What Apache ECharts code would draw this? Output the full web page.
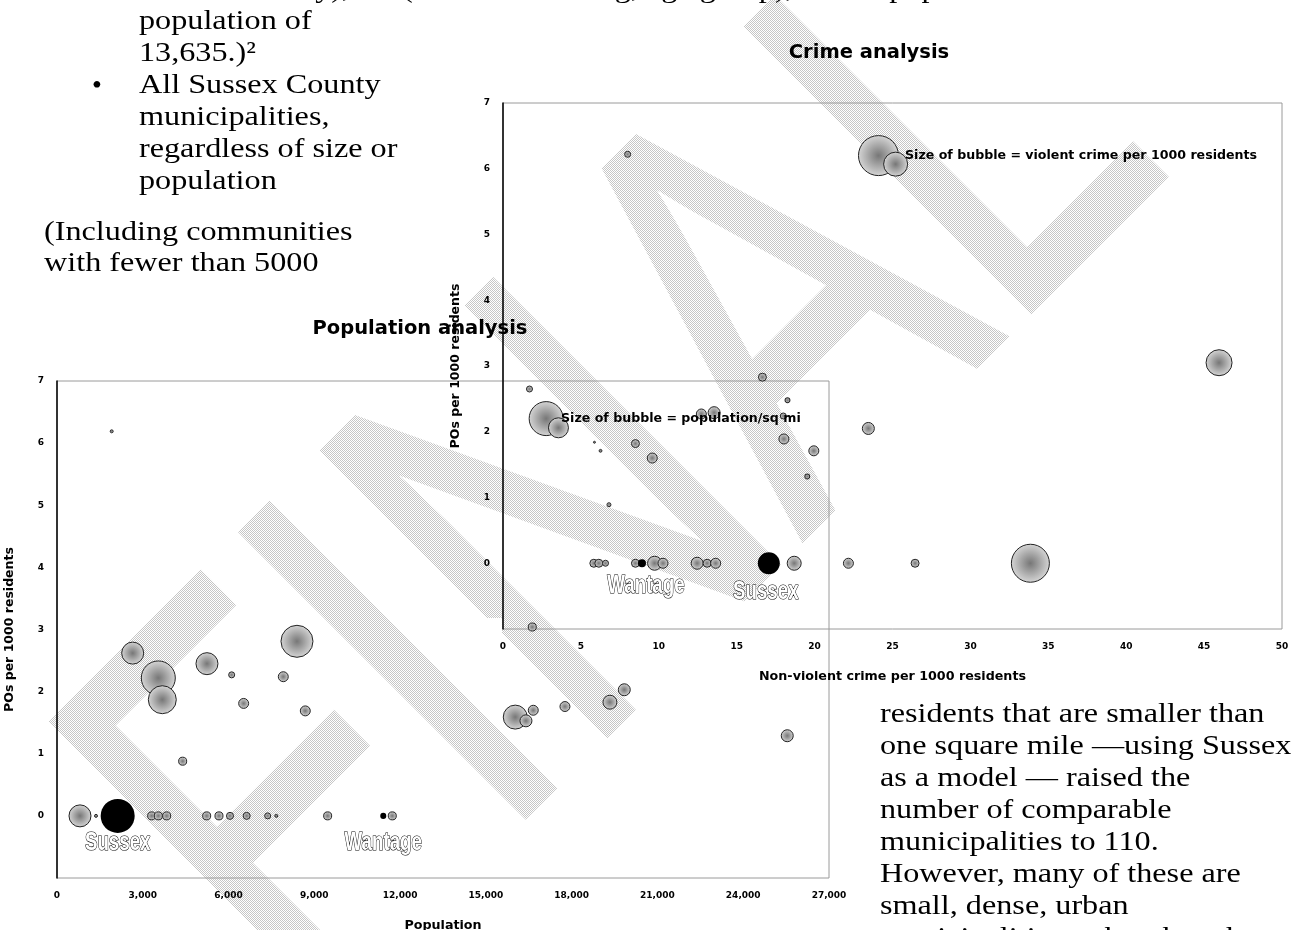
<!DOCTYPE html>
<html>
<head>
<meta charset="utf-8">
<script src="https://cdn.jsdelivr.net/npm/echarts@6/dist/echarts.min.js"></script>
<style>
  html, body { margin: 0; padding: 0; background: #fff; }
  #wrap { position: relative; width: 1292px; height: 930px; }
  #mark, #page { position: absolute; left: 0; top: 0; width: 1292px; height: 930px; }
</style>
</head>
<body>
<div id="wrap">
  <canvas id="mark" width="1292" height="930"></canvas>
  <div id="page"></div>
</div>
<script>
// Population analysis: population vs POs per 1000, bubble = population / sq mi
var popTotal = [1913, 2647, 3543, 3683, 5245, 6109, 8393, 7914, 6528, 8684, 4395, 16027, 16401, 16657, 17765, 19338, 19840, 25540, 16622,
  804, 1364, 3311, 3543, 3836, 5235, 5665, 6050, 6633, 7368, 7670, 9466, 11726];
var popPOs = [6.19, 2.62, 2.22, 1.87, 2.45, 2.27, 2.81, 2.24, 1.81, 1.69, 0.88, 1.59, 1.53, 1.70, 1.76, 1.83, 2.03, 1.29, 3.04,
  0, 0, 0, 0, 0, 0, 0, 0, 0, 0, 0, 0, 0];
var popDensity = [27, 1465, 3500, 2370, 1465, 110, 3100, 300, 300, 300, 195, 1740, 435, 300, 300, 590, 435, 435, 195,
  1465, 27, 195, 195, 195, 195, 195, 150, 150, 110, 27, 195, 195];

// Crime analysis: non-violent crime vs POs per 1000, bubble = violent crime per 1000
var crimeNonViolent = [8.0, 24.1, 25.2, 16.65, 23.45, 45.96, 1.7, 2.77, 3.56, 5.87, 6.26, 8.5, 9.58, 6.8, 12.73, 13.55, 18.26, 17.99, 18.03, 19.95, 19.53,
  5.83, 6.15, 6.58, 8.5, 9.73, 10.27, 12.46, 13.1, 13.65, 18.69, 22.17, 26.45, 33.85];
var crimePOs = [6.22, 6.2, 6.07, 2.83, 2.05, 3.05, 2.65, 2.2, 2.06, 1.84, 1.71, 1.82, 1.6, 0.89, 2.27, 2.29, 2.48, 2.24, 1.89, 1.71, 1.32,
  0, 0, 0, 0, 0, 0, 0, 0, 0, 0, 0, 0, 0];
var crimeViolent = [0.09, 4.0, 1.44, 0.16, 0.36, 1.69, 0.09, 2.89, 1.0, 0.01, 0.02, 0.16, 0.25, 0.04, 0.25, 0.36, 0.06, 0.09, 0.25, 0.25, 0.06,
  0.16, 0.16, 0.09, 0.16, 0.49, 0.25, 0.36, 0.16, 0.25, 0.49, 0.25, 0.16, 3.61];

// the two towns drawn in black
var markedTowns = ['Wantage', 'Sussex'];
var popMarkedTotal = [11411, 2122];
var popMarkedPOs = [0, 0];
var popMarkedDensity = [110, 3500];
var crimeMarkedNonViolent = [8.92, 17.06];
var crimeMarkedPOs = [0, 0];
var crimeMarkedViolent = [0.16, 1.21];

// tick labels
var popTicks = [0, 3000, 6000, 9000, 12000, 15000, 18000, 21000, 24000, 27000];
var crimeTicks = [0, 5, 10, 15, 20, 25, 30, 35, 40, 45, 50];
var poTicks = [0, 1, 2, 3, 4, 5, 6, 7];

// document text around the charts
var textTopLeft = ['Sussex County), NJ (similar in zoning, age group), with a population', 'population of', '13,635.)\u00b2',
  'All Sussex County', 'municipalities,', 'regardless of size or', 'population'];
var textNote = ['(Including communities', 'with fewer than 5000'];
var textRight = ['residents that are smaller than', 'one square mile \u2014using Sussex', 'as a model \u2014 raised the',
  'number of comparable', 'municipalities to 110.', 'However, many of these are', 'small, dense, urban',
  'municipalities rather than the rural'];

var chartFont = '"DejaVu Sans", sans-serif';
var bookFont = '"Liberation Serif", serif';

/**
 * FINAL 水印（棋盘格纹理）
 */
function drawWatermark() {
  var cv = document.getElementById('mark');
  var ctx = cv.getContext('2d');
  ctx.save();
  ctx.translate(197, 917);
  ctx.rotate(-Math.PI / 4);
  ctx.scale(0.74, 1);
  ctx.font = '583px "Liberation Sans", sans-serif';
  ctx.textAlign = 'left';
  ctx.textBaseline = 'middle';
  ctx.fillStyle = '#000';
  ctx.strokeStyle = '#000';
  ctx.lineWidth = 6;
  ctx.fillText('FINAL', 0, 0);
  ctx.strokeText('FINAL', 0, 0);
  ctx.restore();

  var tile = document.createElement('canvas');
  tile.width = 2;
  tile.height = 2;
  var t = tile.getContext('2d');
  t.fillStyle = '#ffffff';
  t.fillRect(0, 0, 2, 2);
  t.fillStyle = '#c6c6c6';
  t.fillRect(0, 0, 1, 1);
  t.fillRect(1, 1, 1, 1);

  ctx.globalCompositeOperation = 'source-in';
  ctx.fillStyle = ctx.createPattern(tile, 'repeat');
  ctx.fillRect(0, 0, cv.width, cv.height);
  ctx.globalCompositeOperation = 'source-over';
  // 白色遮挡块
  ctx.clearRect(470, 618, 32, 24);
}
drawWatermark();

var chart = echarts.init(document.getElementById('page'));

var bubbleFill = {
  type: 'radial', x: 0.5, y: 0.5, r: 0.5,
  colorStops: [{ offset: 0, color: '#777777' }, { offset: 1, color: '#d6d6d6' }]
};

function popSize(d) { return 34 * Math.sqrt(d[2] / 3500); }
function crimeSize(d) { return 20 * Math.sqrt(d[2]); }

function zip(xs, ys, vs) {
  return xs.map(function(x, i) { return [x, ys[i], vs[i]]; });
}
function named(xs, ys, vs) {
  return markedTowns.map(function(n, i) { return { name: n, value: [xs[i], ys[i], vs[i]] }; });
}

function valueAxis(grid, min, max, interval, name, fmt) {
  return {
    type: 'value', gridIndex: grid, min: min, max: max, interval: interval,
    name: name, nameLocation: 'middle', nameGap: 41,
    nameTextStyle: { fontFamily: chartFont, fontWeight: 'bold', fontSize: 12.7, color: '#000' },
    axisTick: { show: false },
    splitLine: { show: false },
    axisLabel: { fontFamily: chartFont, fontWeight: 'bold', fontSize: 9, color: '#000', margin: 13, formatter: fmt }
  };
}

function lines(arr, x, top, lh, sx) {
  return {
    type: 'text', x: x, y: top, z: 20, scaleX: sx,
    style: { text: arr.join('\n'), font: '28px ' + bookFont, fill: '#000', lineHeight: lh, textVerticalAlign: 'top' }
  };
}

function label(text, x, y, size, align) {
  return {
    type: 'text', x: x, y: y, z: 20,
    style: { text: text, font: 'bold ' + size + 'px ' + chartFont, fill: '#000', textAlign: align, textVerticalAlign: 'middle' }
  };
}

var popX = valueAxis(0, popTicks[0], popTicks[popTicks.length - 1], popTicks[1] - popTicks[0], 'Population',
  function(v) { return v.toLocaleString('en-US'); });
popX.axisLine = { show: false };
var crimeX = valueAxis(1, crimeTicks[0], crimeTicks[crimeTicks.length - 1], crimeTicks[1] - crimeTicks[0],
  'Non-violent crime per 1000 residents');
crimeX.axisLine = { show: false };

var yFmt = function(v) { return v < poTicks[0] ? '' : v; };
var popY = valueAxis(0, -1, poTicks[poTicks.length - 1], 1, 'POs per 1000 residents', yFmt);
var crimeY = valueAxis(1, -1, poTicks[poTicks.length - 1], 1, 'POs per 1000 residents', yFmt);
popY.nameTextStyle.fontSize = crimeY.nameTextStyle.fontSize = 12.5;
popY.axisLine = crimeY.axisLine = { show: true, lineStyle: { color: '#000', width: 1.5 } };

var option = {
  backgroundColor: 'transparent',
  animation: false,
  grid: [
    { left: 57, top: 381, width: 772, height: 497, outerBoundsMode: 'none', containLabel: false,
      show: true, borderColor: '#9a9a9a', borderWidth: 1, backgroundColor: 'transparent' },
    { left: 503, top: 103, width: 779, height: 526, outerBoundsMode: 'none', containLabel: false,
      show: true, borderColor: '#9a9a9a', borderWidth: 1, backgroundColor: 'transparent' }
  ],
  xAxis: [popX, crimeX],
  yAxis: [popY, crimeY],
  series: [
    {
      type: 'scatter', xAxisIndex: 0, yAxisIndex: 0, silent: true,
      data: zip(popTotal, popPOs, popDensity), symbolSize: popSize,
      itemStyle: { color: bubbleFill, borderColor: '#222', borderWidth: 1, opacity: 1 }
    },
    {
      type: 'scatter', xAxisIndex: 0, yAxisIndex: 0, silent: true,
      data: named(popMarkedTotal, popMarkedPOs, popMarkedDensity), symbolSize: popSize,
      itemStyle: { color: '#000', opacity: 1 }
    },
    {
      type: 'scatter', xAxisIndex: 1, yAxisIndex: 1, silent: true,
      data: zip(crimeNonViolent, crimePOs, crimeViolent), symbolSize: crimeSize,
      itemStyle: { color: bubbleFill, borderColor: '#222', borderWidth: 1, opacity: 1 }
    },
    {
      type: 'scatter', xAxisIndex: 1, yAxisIndex: 1, silent: true,
      data: named(crimeMarkedNonViolent, crimeMarkedPOs, crimeMarkedViolent), symbolSize: crimeSize,
      itemStyle: { color: '#000', opacity: 1 }
    }
  ]
};

chart.setOption(option);

// 城镇名称（空心字），位置由坐标系换算
function townLabel(grid, x, y, name, dx, dy) {
  var p = chart.convertToPixel({ gridIndex: grid }, [x, y]);
  return {
    type: 'text', x: p[0] + dx, y: p[1] + dy, z: 20, scaleX: 0.72,
    style: { text: name, font: 'bold 26px "Liberation Sans", sans-serif', fill: '#fff', stroke: '#000', lineWidth: 1.2,
      textAlign: 'center', textVerticalAlign: 'middle' }
  };
}

var graphics = [
  label('Crime analysis', 869, 53, 19.5, 'center'),
  label('Population analysis', 420, 329, 19.5, 'center'),
  label('Size of bubble = violent crime per 1000 residents', 905, 156, 12.6, 'left'),
  label('Size of bubble = population/sq mi', 561, 419, 12.6, 'left'),
  lines(textTopLeft, 139, -26, 32, 1.15),
  { type: 'text', x: 97, y: 87, z: 20, style: { text: '\u2022', font: '28px ' + bookFont, fill: '#000', textAlign: 'center', textVerticalAlign: 'middle' } },
  lines(textNote, 44, 217, 31, 1.15),
  lines(textRight, 880, 699, 32, 1.15)
];
markedTowns.forEach(function(n, i) {
  graphics.push(townLabel(0, popMarkedTotal[i], popMarkedPOs[i], n, 0, 27));
  graphics.push(townLabel(1, crimeMarkedNonViolent[i], crimeMarkedPOs[i], n, n === 'Wantage' ? 4 : -3, n === 'Wantage' ? 23 : 29));
});

chart.setOption({ graphic: graphics });
</script>
</body>
</html>
